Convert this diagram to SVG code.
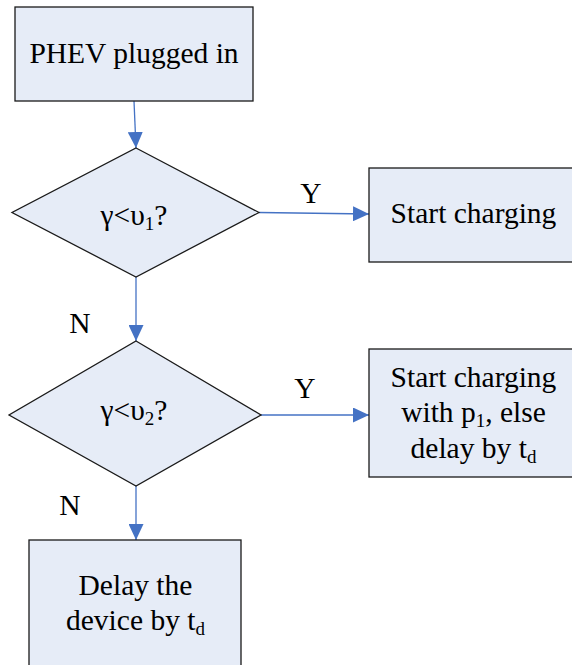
<svg xmlns="http://www.w3.org/2000/svg" width="572" height="665" viewBox="0 0 572 665">
  <style>
    .box { fill: #E6ECF7; stroke: #1a1a1a; stroke-width: 1.3; }
    .lbl { font-family: "Liberation Serif", "Times New Roman", serif; font-size: 29.5px; fill: #000; text-anchor: middle; }
    .sub { font-size: 19px; }
    .edge { fill: none; stroke: #4472C4; stroke-width: 1.3; marker-end: url(#arrow); }
  </style>
  <defs>
    <marker id="arrow" markerUnits="userSpaceOnUse" markerWidth="16" markerHeight="15" refX="16" refY="7.5" orient="auto">
      <path d="M0,0 L16,7.5 L0,15 Z" fill="#4472C4"/>
    </marker>
  </defs>
  <rect width="572" height="665" fill="#ffffff"/>

  <!-- connectors -->
  <g id="connectors">
    <line class="edge" x1="134" y1="101" x2="136" y2="148"/>
    <line class="edge" x1="259" y1="212.5" x2="369" y2="214"/>
    <line class="edge" x1="136" y1="277" x2="136" y2="341"/>
    <line class="edge" x1="261" y1="415" x2="369" y2="415"/>
    <line class="edge" x1="136" y1="486" x2="136" y2="540"/>
    <text class="lbl" x="311" y="203">Y</text>
    <text class="lbl" x="80" y="333">N</text>
    <text class="lbl" x="305" y="398">Y</text>
    <text class="lbl" x="70" y="515">N</text>
  </g>

  <!-- start node -->
  <g id="plugged">
    <rect class="box" x="15" y="7" width="238" height="94"/>
    <text class="lbl" x="134" y="63">PHEV plugged in</text>
  </g>

  <!-- first threshold test -->
  <g id="test1">
    <polygon class="box" points="136,148 259,212.5 136,277 12,212.5"/>
    <text class="lbl" x="134" y="225">γ&lt;υ<tspan class="sub" dy="5">1</tspan><tspan dy="-5">?</tspan></text>
  </g>

  <g id="start">
    <rect class="box" x="369" y="168" width="210" height="94"/>
    <text class="lbl" x="473.5" y="223">Start charging</text>
  </g>

  <!-- second threshold test -->
  <g id="test2">
    <polygon class="box" points="136,341 261,415 136,486 9,415"/>
    <text class="lbl" x="134" y="420">γ&lt;υ<tspan class="sub" dy="5">2</tspan><tspan dy="-5">?</tspan></text>
  </g>

  <g id="startP1">
    <rect class="box" x="369" y="349" width="210" height="128"/>
    <text class="lbl" x="473.5" y="387">Start charging</text>
    <text class="lbl" x="473.5" y="422">with p<tspan class="sub" dy="5">1</tspan><tspan dy="-5">, else</tspan></text>
    <text class="lbl" x="473.5" y="458">delay by t<tspan class="sub" dy="5">d</tspan></text>
  </g>

  <g id="delay">
    <rect class="box" x="29" y="540" width="212" height="140"/>
    <text class="lbl" x="135.5" y="595">Delay the</text>
    <text class="lbl" x="135.5" y="630">device by t<tspan class="sub" dy="5">d</tspan></text>
  </g>
</svg>
